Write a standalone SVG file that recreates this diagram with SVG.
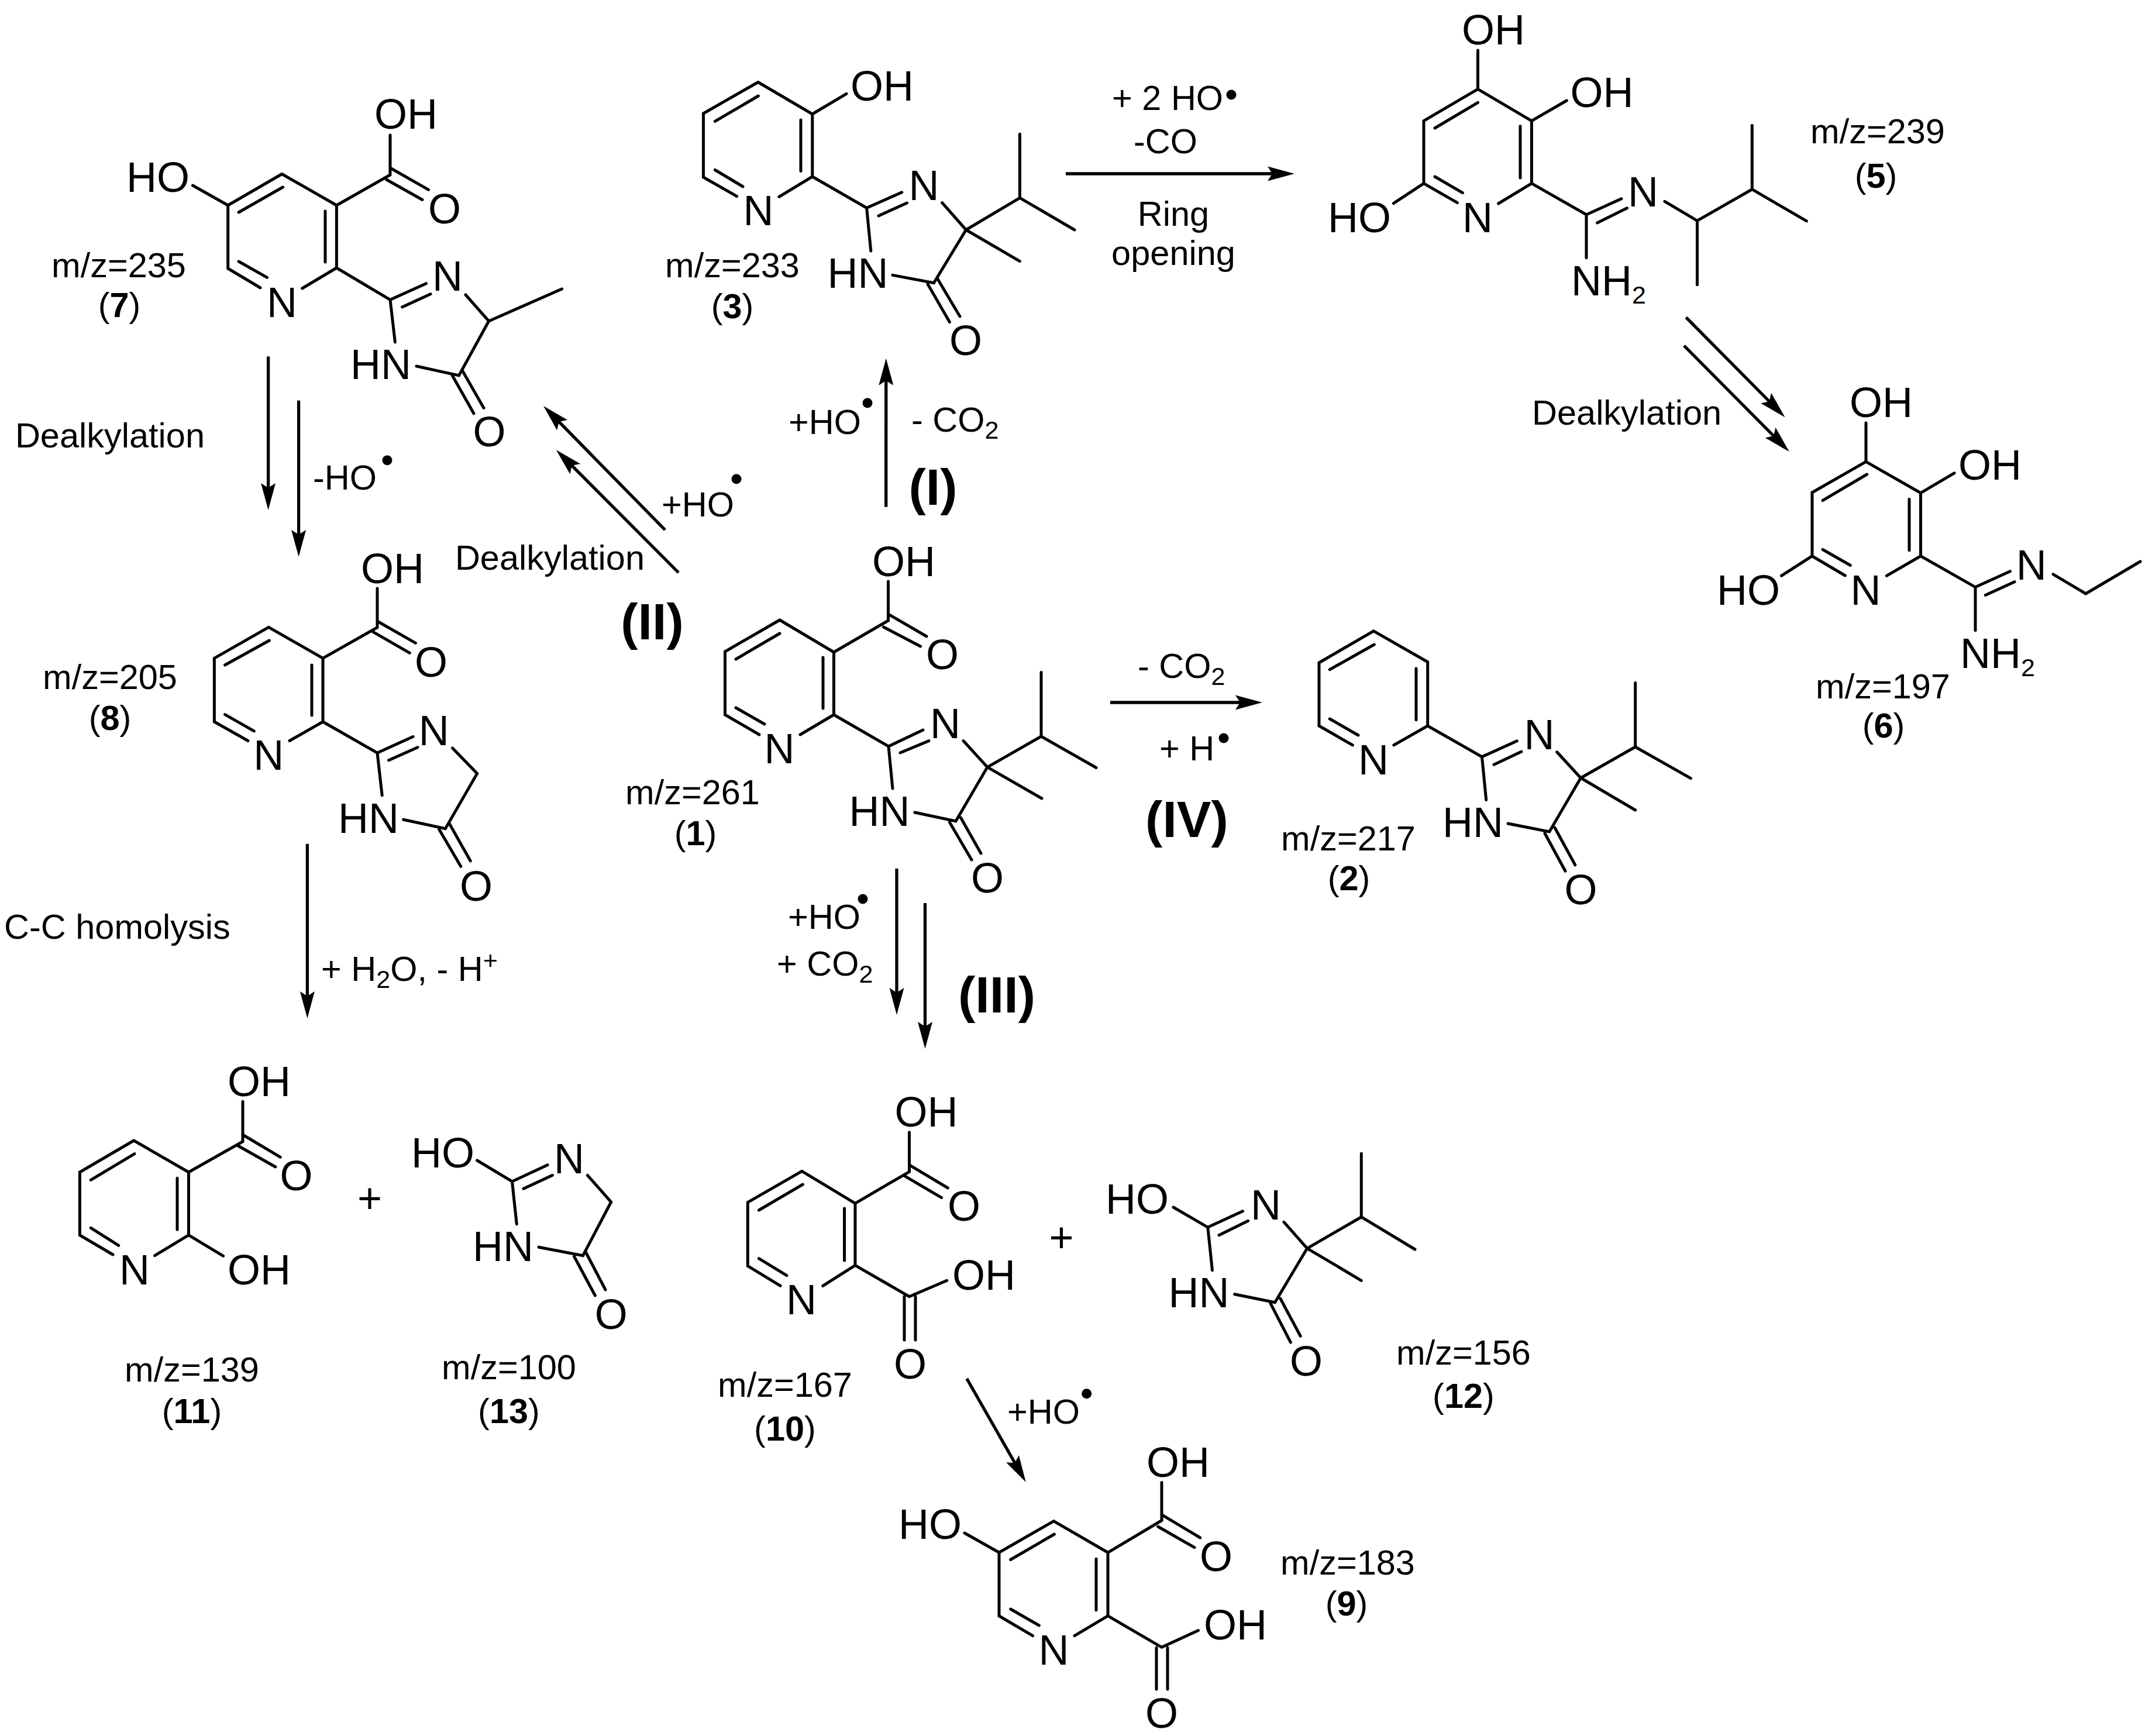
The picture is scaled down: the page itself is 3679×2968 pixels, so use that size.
<svg xmlns="http://www.w3.org/2000/svg" width="3679" height="2968" viewBox="0 0 3679 2968">
<style>
text{font-family:"Liberation Sans",Arial,sans-serif;fill:#000}
.a{font-size:72px}
.l{font-size:59.5px}
.r{font-size:88px;font-weight:700;text-anchor:middle}
.m{text-anchor:middle}
.e{text-anchor:end}
.b{font-weight:700}
.s{font-size:43px}
path{fill:none;stroke:#000;stroke-width:5;stroke-linecap:round;stroke-linejoin:miter}
line{stroke:#000;stroke-width:5.3;stroke-linecap:butt}
circle{fill:#000}
</style>
<defs>
<marker id="ah" markerUnits="userSpaceOnUse" markerWidth="50" markerHeight="30" refX="16" refY="15" orient="auto" viewBox="0 0 50 30"><polygon points="46,15 0,2.5 8,15 0,27.5" fill="#000"/></marker>
</defs>
<rect width="3679" height="2968" fill="#fff"/>

<g id="mol1">
<path d="M1333 1060L1239.5 1114V1222L1298 1256M1368 1256L1425.5 1222V1115L1333 1060M1258 1127L1333 1083M1258 1210L1307 1238M1407 1124V1211M1425.5 1115L1518.5 1061V994M1518.5 1050L1584 1088M1510.5 1072L1573.5 1105M1425.5 1222L1519 1276L1578 1248M1539 1287L1588 1266.6M1519 1276L1526 1348M1647 1266.6L1688 1311.6L1780 1259V1149.5M1780 1259L1874 1312.5M1688 1311.6L1781 1365M1688 1311.6L1634 1404L1564 1389M1642.5 1398L1677 1459M1623.5 1406L1661 1470"/>
<text class="a m" x="1332.5" y="1305">N</text>
<text class="a" x="1491" y="985">OH</text>
<text class="a m" x="1611" y="1144">O</text>
<text class="a m" x="1616" y="1262">N</text>
<text class="a m" x="1503.5" y="1412">HN</text>
<text class="a m" x="1688" y="1526">O</text>
<text class="l m" x="1184" y="1375">m/z=261</text>
<text class="l m" x="1189" y="1445">(<tspan class="b">1</tspan>)</text>
</g>

<g id="mol2">
<path d="M2348.3 1078.8L2255 1133V1241L2312.4 1273.9M2382.8 1273.9L2440.7 1241V1131.8L2348.3 1078.8M2273.2 1144.7L2349.3 1102M2273.2 1229L2322 1257M2421 1143V1230.7M2440.7 1241L2533.5 1293.9L2593.3 1266.8M2554 1307.2L2601 1285M2533.5 1293.9L2540.7 1367.5M2661.7 1285.8L2702.4 1330L2795.7 1277V1167.5M2795.7 1277L2890.4 1330.7M2702.4 1330L2795.7 1385M2702.4 1330L2648.8 1422L2578 1408M2658 1415L2692.8 1478.8M2641 1424.7L2676 1489.3"/>
<text class="a m" x="2348" y="1324">N</text>
<text class="a m" x="2631.6" y="1280.5">N</text>
<text class="a m" x="2518" y="1430.5">HN</text>
<text class="a m" x="2702.4" y="1546">O</text>
<text class="l m" x="2305" y="1453.5">m/z=217</text>
<text class="l m" x="2306" y="1522">(<tspan class="b">2</tspan>)</text>
</g>

<g id="mol3">
<path d="M1296 140.5L1202.5 194V303L1259.7 335.6M1332 336.4L1388.8 302V195L1296 140.5M1222.4 207.4L1296.4 164M1222.4 290.5L1270 319M1369 205V292.4M1388.8 195L1447 160.4M1388.8 302L1481.6 355.5L1541.8 328.8M1502 369L1550.5 347M1481.6 355.5L1488.8 429M1610.7 346.7L1651.5 393L1743.4 338.3V229.3M1743.4 338.3L1837 393M1651.5 393L1743.4 446.6M1651.5 393L1596.4 483.7L1526 470.4M1603 477L1641 541M1586 485.7L1623.5 550.7"/>
<text class="a m" x="1296.4" y="385">N</text>
<text class="a" x="1454" y="172">OH</text>
<text class="a m" x="1579.6" y="342">N</text>
<text class="a m" x="1466.5" y="492">HN</text>
<text class="a m" x="1651" y="607">O</text>
<text class="l m" x="1252" y="474">m/z=233</text>
<text class="l m" x="1252" y="544">(<tspan class="b">3</tspan>)</text>
</g>

<g id="mol5">
<path d="M2526.5 152.4L2434 206.6V313.6L2491.5 346.6M2561.6 348L2618.4 313.6V206.6L2526.5 152.4V85.9M2453 219L2526.5 175.4M2453 302L2500.4 329.7M2599 215.8V304M2618.4 206.6L2678.3 172M2434 313.6L2382.4 347.6M2618.4 313.6L2712 367L2772 339.8M2730.6 381L2781.6 355.8M2712 367V440.8M2846 344.3L2901.5 377.4L2995.3 323.7V214.4M2995.3 323.7L3088.4 377.9M2901.5 377.4V486.7"/>
<text class="a m" x="2526" y="397">N</text>
<text class="a" x="2499" y="75.5">OH</text>
<text class="a" x="2684.5" y="182.5">OH</text>
<text class="a e" x="2378" y="397">HO</text>
<text class="a m" x="2809" y="353">N</text>
<text class="a" x="2686" y="505">NH<tspan class="s" dy="14">2</tspan></text>
<text class="l m" x="3210" y="244.5">m/z=239</text>
<text class="l m" x="3207" y="321">(<tspan class="b">5</tspan>)</text>
</g>

<g id="mol6">
<path d="M3190 789.3L3098 842V950.7L3154.3 984M3225.4 984.3L3283.5 950.7V842.8L3190 789.3V723M3116 855.7L3191.6 811M3116 939.5L3163.3 966.5M3264 853.6V940.8M3283.5 842.8L3341 808.8M3098 950.7L3045.5 984.3M3283.5 950.7L3377 1003.8L3436.5 976.8M3394.3 1017.5L3444 994.7M3377 1003.8V1077.7M3510 981.8L3565.7 1015L3659 960"/>
<text class="a m" x="3189.6" y="1033.5">N</text>
<text class="a" x="3162" y="712.5">OH</text>
<text class="a" x="3348" y="820">OH</text>
<text class="a e" x="3043" y="1033.5">HO</text>
<text class="a m" x="3472.8" y="990.5">N</text>
<text class="a" x="3351" y="1141.5">NH<tspan class="s" dy="14">2</tspan></text>
<text class="l m" x="3219" y="1193.5">m/z=197</text>
<text class="l m" x="3220" y="1261">(<tspan class="b">6</tspan>)</text>
</g>

<g id="mol7">
<path d="M482 297.5L389.7 351V459L445 492M516.7 493L575.4 458V351L482 297.5M408 363L483.6 320M408 447L456.5 474.4M556 361V448M329.5 317L389.7 351M575.4 351L667 299V231M667 287L732.5 324.4M660.6 307L722 341.5M575.4 458L667 512.5L728.5 484.7M687.6 525L736 502.7M667 512.5L675.4 585M796 504L835.6 549L960.6 494M835.6 549L784.6 642L712 626M790.7 634L827 697.5M773 641.5L810 707"/>
<text class="a m" x="482" y="542">N</text>
<text class="a e" x="324" y="328">HO</text>
<text class="a" x="640" y="220">OH</text>
<text class="a m" x="760" y="381.5">O</text>
<text class="a m" x="765" y="497">N</text>
<text class="a m" x="651" y="648">HN</text>
<text class="a m" x="836.6" y="763">O</text>
<text class="l m" x="203" y="474">m/z=235</text>
<text class="l m" x="204" y="542">(<tspan class="b">7</tspan>)</text>
</g>

<g id="mol8">
<path d="M459.3 1072.3L366.4 1125.4V1234L424 1266.5M495 1266.5L552 1234V1125.4L459.3 1072.3M384.6 1137L460.4 1095M384.6 1221.7L434.3 1249.9M533 1137V1223M552 1125.4L645 1072.7V1006M645 1062L710.4 1099.3M637 1079.8L700.4 1116.3M552 1234L645 1287.2L706 1259.4M664.6 1299.7L714 1277.7M645 1287.2L653.2 1359.8M773.6 1279L815.7 1322.5L761.4 1416.7L689.6 1401.3M768.6 1408.8L804.3 1471.9M750.7 1418L787.9 1481.4"/>
<text class="a m" x="459.3" y="1316">N</text>
<text class="a" x="617" y="996.5">OH</text>
<text class="a m" x="737" y="1157">O</text>
<text class="a m" x="741.8" y="1274">N</text>
<text class="a m" x="630" y="1424">HN</text>
<text class="a m" x="814" y="1540">O</text>
<text class="l m" x="188" y="1178">m/z=205</text>
<text class="l m" x="188" y="1248">(<tspan class="b">8</tspan>)</text>
</g>

<g id="mol9">
<path d="M1801.4 2600.7L1708 2654.3V2762.7L1765.6 2796.6M1837 2796.6L1894 2762.7V2654.3L1801.4 2600.7M1727.6 2666.5L1802.4 2623M1727.6 2751L1776.4 2779M1874 2665.3V2752.8M1649 2621L1708 2654.3M1894 2654.3L1986 2599.5V2534.5M1986 2589.6L2051.8 2629M1979.7 2610L2042 2645.6M1894 2762.7L1986 2816.3L2048.5 2787.5M1977 2817V2888M1996 2817V2888"/>
<text class="a m" x="1801.4" y="2846">N</text>
<text class="a e" x="1644" y="2631">HO</text>
<text class="a" x="1960" y="2524.5">OH</text>
<text class="a m" x="2079" y="2685.5">O</text>
<text class="a" x="2058" y="2802.5">OH</text>
<text class="a m" x="1986" y="2954">O</text>
<text class="l m" x="2304" y="2692">m/z=183</text>
<text class="l m" x="2302" y="2762">(<tspan class="b">9</tspan>)</text>
</g>

<g id="mol10">
<path d="M1370.9 2002.3L1278.3 2055.7V2164.3L1334.2 2198.3M1406.8 2198.3L1462 2163.3V2057.3L1370.9 2002.3M1297.4 2069L1372.4 2025M1297.4 2151.7L1344.9 2180.7M1443.6 2066V2155M1462 2057.3L1554.5 2003.3V1935.7M1554.5 1991.7L1620.3 2031M1544.6 2009.3L1609.6 2047.7M1462 2163.3L1554.5 2216.7L1618.8 2189.3M1546 2216.7V2291M1565 2216.7V2291"/>
<text class="a m" x="1370" y="2247">N</text>
<text class="a" x="1529.5" y="1926">OH</text>
<text class="a m" x="1648" y="2087">O</text>
<text class="a" x="1628" y="2204.5">OH</text>
<text class="a m" x="1556" y="2356.5">O</text>
<text class="l m" x="1342" y="2388">m/z=167</text>
<text class="l m" x="1342" y="2463">(<tspan class="b">10</tspan>)</text>
</g>

<g id="mol11">
<path d="M228.8 1950L136.4 2004V2111.7L193 2145M264.6 2146.7L322.5 2111.7V2004L228.8 1950M155.3 2017.3L230 1972.7M155.3 2099.3L202.8 2129.3M303 2014.3V2102.3M322.5 2111.7L381.7 2147.3M322.5 2004L415 1951.7V1883.3M415 1940L479.3 1978.3M405.8 1958.3L470.9 1995"/>
<text class="a m" x="230" y="2195.5">N</text>
<text class="a" x="389" y="2195.5">OH</text>
<text class="a" x="389" y="1874">OH</text>
<text class="a m" x="506.6" y="2035">O</text>
<text class="l m" x="328" y="2362">m/z=139</text>
<text class="l m" x="328" y="2433">(<tspan class="b">11</tspan>)</text>
</g>

<g id="mol12">
<path d="M2006 2064L2064.8 2098.3L2124.5 2070.7M2084 2111.7L2133.7 2087.3M2064.8 2098.3L2072.5 2171.7M2195 2089.3L2234.7 2134.3L2327.3 2080.7V1972.3M2327.3 2080.7L2419 2136M2234.7 2134.3L2327.3 2189.3M2234.7 2134.3L2179.6 2226.7L2110.7 2212.7M2188.8 2220L2223.2 2284.3M2172 2228.3L2206.4 2295"/>
<text class="a e" x="1998" y="2075">HO</text>
<text class="a m" x="2164" y="2085">N</text>
<text class="a m" x="2049.5" y="2235">HN</text>
<text class="a m" x="2233" y="2351.5">O</text>
<text class="l m" x="2502" y="2333">m/z=156</text>
<text class="l m" x="2502" y="2407">(<tspan class="b">12</tspan>)</text>
</g>

<g id="mol13">
<path d="M815.7 1984L875.5 2020L936 1991.7M895 2032.3L944.5 2009.3M875.5 2020L883.3 2092.7M1004.4 2009.3L1044.7 2055L996.6 2146.7L921 2132.3M1001 2140L1035 2205M981.6 2148.3L1017.4 2215"/>
<text class="a e" x="811" y="1995.5">HO</text>
<text class="a m" x="973" y="2006">N</text>
<text class="a m" x="860" y="2156">HN</text>
<text class="a m" x="1044.7" y="2271.5">O</text>
<text class="l m" x="870" y="2358">m/z=100</text>
<text class="l m" x="870" y="2433">(<tspan class="b">13</tspan>)</text>
</g>

<g id="connectors">
<line x1="1514.7" y1="866.7" x2="1514.8" y2="642.7" marker-end="url(#ah)"/>
<line x1="1137" y1="906" x2="950" y2="715.4" marker-end="url(#ah)"/>
<line x1="1160" y1="979" x2="972" y2="790.4" marker-end="url(#ah)"/>
<line x1="1533" y1="1485" x2="1533" y2="1705" marker-end="url(#ah)"/>
<line x1="1581.5" y1="1544" x2="1581.5" y2="1763" marker-end="url(#ah)"/>
<line x1="1898" y1="1201" x2="2128" y2="1201" marker-end="url(#ah)"/>
<line x1="1822" y1="297" x2="2183" y2="297" marker-end="url(#ah)"/>
<line x1="2882.4" y1="542.7" x2="3030.4" y2="692" marker-end="url(#ah)"/>
<line x1="2879" y1="591" x2="3037.8" y2="751" marker-end="url(#ah)"/>
<line x1="458.6" y1="609.5" x2="458.6" y2="842" marker-end="url(#ah)"/>
<line x1="510.6" y1="684.7" x2="510.6" y2="922" marker-end="url(#ah)"/>
<line x1="525.4" y1="1442.8" x2="525.4" y2="1711" marker-end="url(#ah)"/>
<line x1="1652.8" y1="2357" x2="1738.9" y2="2508" marker-end="url(#ah)"/>
</g>

<g id="labels">
<text class="r" x="1595" y="863">(I)</text>
<text class="r" x="1115" y="1093">(II)</text>
<text class="r" x="1704" y="1731">(III)</text>
<text class="r" x="2029" y="1431">(IV)</text>
<text class="l" x="1131" y="882.5">+HO</text><circle cx="1259" cy="819" r="8.5"/>
<text class="l e" x="1102" y="974">Dealkylation</text>
<text class="l" x="1348" y="741.5">+HO</text><circle cx="1483" cy="689" r="8.5"/>
<text class="l" x="1558" y="738">- CO<tspan class="s" dy="12">2</tspan></text>
<text class="l" x="1347" y="1588">+HO</text><circle cx="1475" cy="1537" r="8.5"/>
<text class="l" x="1328" y="1668">+ CO<tspan class="s" dy="12">2</tspan></text>
<text class="l" x="1945" y="1159">- CO<tspan class="s" dy="12">2</tspan></text>
<text class="l" x="1982" y="1300">+ H</text><circle cx="2092" cy="1262" r="8.5"/>
<text class="l" x="1901" y="188">+ 2 HO</text><circle cx="2105" cy="162" r="8.5"/>
<text class="l" x="1938" y="262">-CO</text>
<text class="l m" x="2006" y="386">Ring</text>
<text class="l m" x="2006" y="453">opening</text>
<text class="l" x="2619" y="726">Dealkylation</text>
<text class="l e" x="350" y="764.5">Dealkylation</text>
<text class="l" x="535" y="837">-HO</text><circle cx="662" cy="787" r="8.5"/>
<text class="l" x="7" y="1605">C-C homolysis</text>
<text class="l" x="549" y="1677">+ H<tspan class="s" dy="12">2</tspan><tspan dy="-12">O, - H</tspan><tspan class="s" dy="-20">+</tspan></text>
<text class="a m" x="632" y="2073">+</text>
<text class="a m" x="1814.6" y="2140">+</text>
<text class="l" x="1722" y="2434">+HO</text><circle cx="1857.7" cy="2382.7" r="8.5"/>
</g>
</svg>
